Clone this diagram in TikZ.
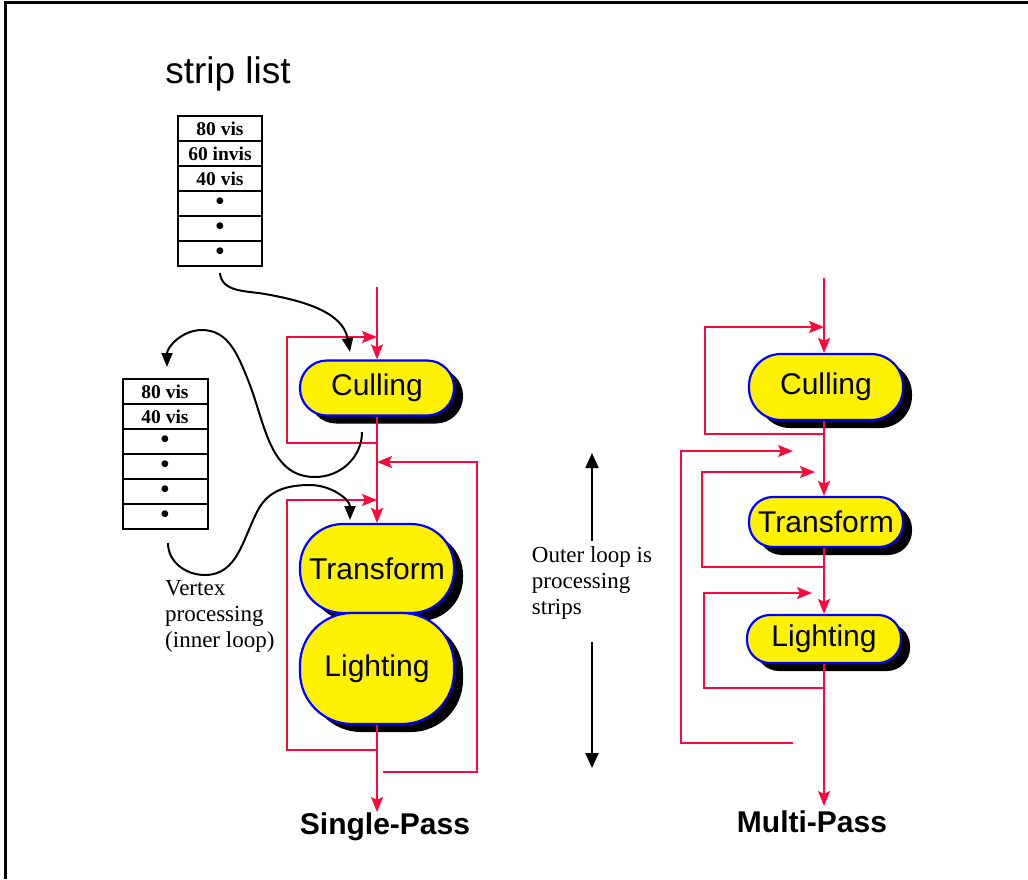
\documentclass[tikz,border=0pt]{standalone}
\usepackage{fontspec}
\setmainfont{Liberation Serif}
\newfontfamily\arial{Liberation Sans}
\usetikzlibrary{arrows.meta,positioning,shadows}

\definecolor{loopred}{RGB}{250,10,60}
\newcommand{\setsz}[2]{\fontsize{#1}{#2}\selectfont}
\newcommand{\rowdot}{{\setsz{25}{18}\textbullet}}

\begin{document}
\begin{tikzpicture}[x=1pt, y=-1pt,
  stage/.style={rectangle, draw=blue, line width=2.2pt, fill=yellow,
                minimum width=154pt, inner sep=0pt, font=\arial\setsz{30}{30},
                drop shadow={shadow xshift=9pt, shadow yshift=-8pt,
                             fill=black, opacity=1}},
  cell/.style={rectangle, draw=black, line width=2pt, minimum width=84pt,
               minimum height=25pt, inner sep=0pt, outer sep=0pt,
               font=\bfseries\setsz{19.5}{19.5}},
  flow/.style={->, >={Stealth[length=15pt, width=12pt, inset=3pt]},
               draw=loopred, line width=2.2pt},
  hand/.style={->, >={Triangle[length=14pt, width=11pt]}, line width=2pt},
  bigarr/.style={<-, >={Triangle[length=15pt, width=13pt]}, line width=2pt},
  note/.style={align=left, inner sep=0pt, font=\setsz{23}{26}}
]
\useasboundingbox (0,0) rectangle (1028,879);

%% ---- frame ----
\draw[line width=2.5pt] (5.5,879) -- (5.5,2.5) -- (1028,2.5);

%% ---- strip lists ----
\node[anchor=base, font=\arial\setsz{37}{37}] (stripTitle) at (228,83) {strip list};

\node[cell] (s1a) at (220,128.5) {80 vis};
\node[cell, below=0pt of s1a] (s1b) {60 invis};
\node[cell, below=0pt of s1b] (s1c) {40 vis};
\node[cell, below=0pt of s1c] (s1d) {\rowdot};
\node[cell, below=0pt of s1d] (s1e) {\rowdot};
\node[cell, below=0pt of s1e] (s1f) {\rowdot};

\node[cell, minimum width=85pt] (s2a) at (165,391.5) {80 vis};
\node[cell, minimum width=85pt, below=0pt of s2a] (s2b) {40 vis};
\node[cell, minimum width=85pt, below=0pt of s2b] (s2c) {\rowdot};
\node[cell, minimum width=85pt, below=0pt of s2c] (s2d) {\rowdot};
\node[cell, minimum width=85pt, below=0pt of s2d] (s2e) {\rowdot};
\node[cell, minimum width=85pt, below=0pt of s2e] (s2f) {\rowdot};

%% ---- single-pass ----
\coordinate (inA) at (377,287);
\node[stage, minimum height=55pt, rounded corners=27pt] (cullA) at (377,388) {Culling};
\node[stage, minimum height=89pt, rounded corners=43pt] (transA) at (377,568.5) {Transform};
\node[stage, minimum height=111pt, rounded corners=52pt] (lightA) at (377,668.5) {Lighting};
\coordinate (outA) at (377,812);
\coordinate (backA) at (383,772);

\draw[flow] (inA) -- (cullA.north);
\draw[flow] (cullA.south |- 0,443) -- ++(-90,0) |- (cullA.north |- 0,337);
\draw[flow] (cullA.south) -- (transA.north);
\draw[flow] (backA) -| (477,462) -- (cullA.south |- 0,462);
\draw[flow] (lightA.south |- 0,750) -| (287,500) -- (transA.north |- 0,500);
\draw[flow] (lightA.south) -- (outA);

\node[anchor=base, font=\arial\bfseries\setsz{30}{30}] (singleLbl) at (385,834) {Single-Pass};

%% ---- hand-drawn strip arrows ----
\coordinate (s1out) at (220,273);
\coordinate (cullInA) at (350,352);
\coordinate (cullOutA) at (362,432);
\coordinate (s2in) at (167,367);
\coordinate (s2out) at (168,543);
\coordinate (transInA) at (350,520);

\draw[hand] (s1out) to[out=-85, in=170] (265,294) to[out=-10, in=100] (cullInA);
\draw[hand] (cullOutA) to[out=-90, in=0] (315,477) to[out=180, in=-68] (248,380)
     to[out=112, in=0] (202,330) to[out=180, in=90] (s2in);
\draw[hand] (s2out) to[out=-90, in=180] (205,575) to[out=0, in=-118] (258,510)
     to[out=62, in=180] (310,485) to[out=0, in=90] (transInA);

\node[note, anchor=north west] (vertexNote) at (165,580) {Vertex\\processing\\(inner loop)};

%% ---- outer loop note ----
\node[note] (outerNote) at (592,583) {Outer loop is\\processing\\strips};
\coordinate (outerUp) at (592,453);
\coordinate (outerDown) at (592,768);
\draw[bigarr] (outerUp) -- ([yshift=5pt]outerNote.north);
\draw[bigarr] (outerDown) -- ([yshift=-22pt]outerNote.south);

%% ---- multi-pass ----
\coordinate (inB) at (824,278);
\node[stage, minimum height=66pt, rounded corners=32pt] (cullB) at (826,387) {Culling};
\node[stage, minimum height=50pt, rounded corners=24pt] (transB) at (826,522) {Transform};
\node[stage, minimum height=48pt, rounded corners=23pt] (lightB) at (824,639) {Lighting};
\coordinate (outB) at (824,806);
\coordinate (backB) at (793,743);
\coordinate (backTipB) at (793,451);
\coordinate (tipT) at (815,472);
\coordinate (tipL) at (812,593);

\draw[flow] (inB) -- (inB |- cullB.north);
\draw[flow] (inB |- 0,434) -- ++(-119,0) |- (inB |- 0,327);
\draw[flow] (inB |- cullB.south) -- (inB |- transB.north);
\draw[flow] (backB) -| (681,451) -- (backTipB);
\draw[flow] (inB |- 0,567) -| (702,472) -- (tipT);
\draw[flow] (inB |- transB.south) -- (inB |- lightB.north);
\draw[flow] (inB |- 0,688) -| (704,593) -- (tipL);
\draw[flow] (inB |- lightB.south) -- (outB);

\node[anchor=base, font=\arial\bfseries\setsz{30}{30}] (multiLbl) at (812,832) {Multi-Pass};
\end{tikzpicture}
\end{document}
